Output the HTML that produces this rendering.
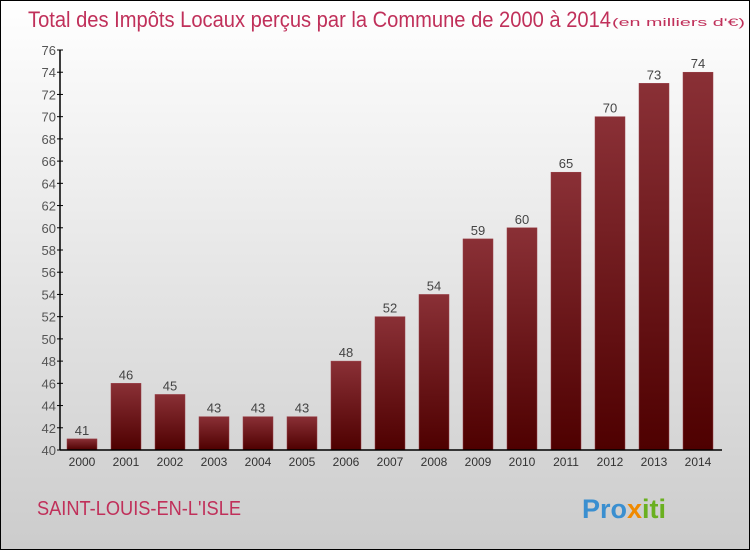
<!DOCTYPE html>
<html><head><meta charset="utf-8"><style>
body{margin:0;}
#wrap{position:relative;width:750px;height:550px;box-sizing:border-box;border:1px solid #000;background:linear-gradient(#fff,#ccc);font-family:"Liberation Sans",sans-serif;overflow:hidden}
</style></head><body>
<div id="wrap">
<svg id="chart" width="750" height="550" style="position:absolute;left:-1px;top:-1px">
<defs><linearGradient id="bg" x1="0" y1="0" x2="0" y2="1"><stop offset="0" stop-color="#8a3036"/><stop offset="1" stop-color="#4e0000"/></linearGradient></defs>
<text x="28" y="27" font-size="22" fill="#c0305a" textLength="583" lengthAdjust="spacingAndGlyphs">Total des Impôts Locaux perçus par la Commune de 2000 à 2014</text>
<text x="612" y="26" font-size="11" fill="#c0305a" textLength="133" lengthAdjust="spacingAndGlyphs">(en milliers d'€)</text>
<text x="37" y="515" font-size="20" fill="#c0305a" textLength="204" lengthAdjust="spacingAndGlyphs">SAINT-LOUIS-EN-L'ISLE</text>
<text x="582" y="518" font-size="27" font-weight="bold" fill="#3a8fd0">Pro<tspan fill="#f08a00">x</tspan><tspan fill="#6ab020">iti</tspan></text>
</svg>
</div>
<script>
const categories=["2000","2001","2002","2003","2004","2005","2006","2007","2008","2009","2010","2011","2012","2013","2014"];
const values=[41,46,45,43,43,43,48,52,54,59,60,65,70,73,74];
const yTicks=[40,42,44,46,48,50,52,54,56,58,60,62,64,66,68,70,72,74,76];
const svg=document.getElementById('chart');
const NS='http://www.w3.org/2000/svg';
const yMin=40,yMax=76,y0=450,y1=50;
function y(v){return y0-(v-yMin)/(yMax-yMin)*(y0-y1);}
function x(i){return 82+i*44;}
function mk(t,a,txt){const e=document.createElementNS(NS,t);for(const k in a)e.setAttribute(k,a[k]);if(txt!==undefined)e.textContent=txt;svg.appendChild(e);return e;}
yTicks.forEach(v=>{
 const t=mk('line',{x1:57,x2:63,y1:y(v),y2:y(v),stroke:'#000'});
 
 
 const l=mk('text',{x:56,y:y(v)+5,'text-anchor':'end','font-size':13,fill:'#555'},v);
 
 
});
categories.forEach((c,i)=>{
 const v=values[i];
 const b=mk('rect',{x:x(i)-15,y:y(v),width:30,height:y0-y(v),fill:'url(#bg)',stroke:'#9a4048','stroke-width':0.5});
 
 
 const vl=mk('text',{x:x(i),y:y(v)-4,'text-anchor':'middle','font-size':13,fill:'#444'},v);
 
 
 const xl=mk('text',{x:x(i),y:466,'text-anchor':'middle','font-size':12,fill:'#333'},c);
 
 
});
const ya=mk('line',{x1:60,x2:60,y1:y1,y2:y0,stroke:'#000','stroke-width':1.5});


const xa=mk('line',{x1:60,x2:722,y1:y0,y2:y0,stroke:'#000','stroke-width':1.5});


</script>
</body></html>
